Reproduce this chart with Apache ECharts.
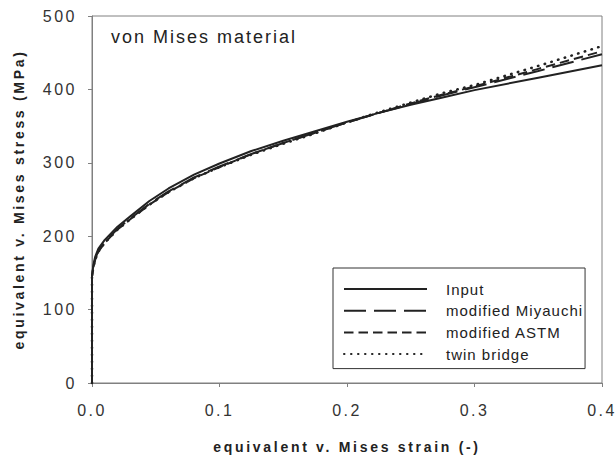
<!DOCTYPE html>
<html>
<head>
<meta charset="utf-8">
<script src="https://cdn.jsdelivr.net/npm/echarts@6/dist/echarts.min.js"></script>
<style>
  html, body { margin: 0; padding: 0; background: #fff; }
  #chart { width: 616px; height: 456px; }
  /* widen the tracking of the SVG text runs, per text role */
  #chart text[style*="16px"] { letter-spacing: 2.5px; }
  #chart text[style*="15px"] { letter-spacing: 1px; }
  #chart text[style*="18px"] { letter-spacing: 2px; }
  #chart text[style*="bold"] { letter-spacing: 2.7px; }
</style>
</head>
<body>
<div id="chart"></div>
<script>
// equivalent strain samples shared by all curves (-)
const strain = [0, 0, 0.001, 0.0025, 0.005, 0.01, 0.02, 0.03, 0.045, 0.06, 0.08, 0.1,
  0.125, 0.15, 0.175, 0.2, 0.225, 0.25, 0.275, 0.3, 0.35, 0.4];
// equivalent stress for each evaluation method (MPa)
const stressInput    = [0, 145, 160, 172, 183, 195, 213, 227, 248, 265, 284, 299,
  316, 330, 343, 356, 368, 379, 389, 399, 416, 433];
const stressMiyauchi = [0, 145, 158, 169, 180, 192, 210, 224, 244, 261, 280, 295,
  312, 327, 341, 355, 368, 380, 392, 403, 425, 448];
const stressASTM     = [0, 145, 157, 168, 179, 191, 209, 223, 243, 260, 279, 294,
  312, 327, 341, 355, 368, 381, 393, 404, 428, 452];
const stressTwin     = [0, 145, 157, 168, 179, 191, 209, 223, 243, 260, 279, 294,
  311, 326, 340, 355, 369, 382, 395, 406, 432, 459];

const seriesNames = ['Input', 'modified Miyauchi', 'modified ASTM', 'twin bridge'];
const xTicks = [0, 0.1, 0.2, 0.3, 0.4];
const yTicks = [0, 100, 200, 300, 400, 500];

const FONT = '"Liberation Sans", Arial, sans-serif';
const INK = '#222';
const FRAME = '#808080';

function pairs(ys) { return strain.map((x, i) => [x, ys[i]]); }

function curve(name, ys, width, dash, cap) {
  return {
    name: name,
    type: 'line',
    data: pairs(ys),
    showSymbol: false,
    symbol: 'none',
    clip: false,
    smooth: false,
    lineStyle: { color: INK, width: width, type: dash, cap: cap || 'butt' },
    itemStyle: { color: INK },
    z: 3
  };
}

const chart = echarts.init(document.getElementById('chart'), null, { renderer: 'svg' });
chart.setOption({
  animation: false,
  backgroundColor: '#fff',
  textStyle: { fontFamily: FONT },
  title: {
    text: 'von Mises material',
    left: 111, top: 28, padding: 0,
    textStyle: { fontFamily: FONT, fontSize: 18, fontWeight: 'normal', color: INK }
  },
  grid: {
    left: 92, right: 14, top: 16, bottom: 73,
    outerBoundsMode: 'none',
    show: true, borderColor: FRAME, borderWidth: 1, backgroundColor: 'transparent'
  },
  xAxis: {
    type: 'value',
    min: xTicks[0], max: xTicks[xTicks.length - 1], interval: 0.1,
    name: 'equivalent v. Mises strain (-)',
    nameLocation: 'middle', nameGap: 57,
    nameTextStyle: { fontFamily: FONT, fontSize: 14, fontWeight: 'bold', color: INK },
    axisLine: { show: true, lineStyle: { color: FRAME, width: 1 } },
    axisTick: { show: true, inside: false, length: 4, lineStyle: { color: FRAME } },
    axisLabel: {
      margin: 19, fontSize: 16, color: '#333', fontFamily: FONT,
      formatter: v => v.toFixed(1)
    },
    splitLine: { show: false }
  },
  yAxis: {
    type: 'value',
    min: yTicks[0], max: yTicks[yTicks.length - 1], interval: 100,
    name: 'equivalent v. Mises stress (MPa)',
    nameLocation: 'middle', nameGap: 66,
    nameTextStyle: { fontFamily: FONT, fontSize: 14, fontWeight: 'bold', color: INK },
    axisLine: { show: true, lineStyle: { color: FRAME, width: 1 } },
    axisTick: { show: true, inside: false, length: 4, lineStyle: { color: FRAME } },
    axisLabel: { margin: 15, fontSize: 16, color: '#333', fontFamily: FONT },
    splitLine: { show: false }
  },
  legend: {
    orient: 'vertical',
    left: 333, top: 268,
    padding: [13.5, 19, 7, 10],
    itemWidth: 83, itemHeight: 14, itemGap: 6.7,
    borderColor: '#333', borderWidth: 1,
    backgroundColor: '#fff',
    itemStyle: { opacity: 0 },
    data: seriesNames,
    selectedMode: false,
    textStyle: { fontFamily: FONT, fontSize: 15, color: INK, padding: [0, 0, 0, 14] }
  },
  series: [
    curve(seriesNames[0], stressInput, 2, 'solid'),
    curve(seriesNames[1], stressMiyauchi, 2, [22, 8]),
    curve(seriesNames[2], stressASTM, 2, [9.5, 5]),
    curve(seriesNames[3], stressTwin, 2.5, [0.5, 6.5], 'round')
  ]
});
</script>
</body>
</html>
